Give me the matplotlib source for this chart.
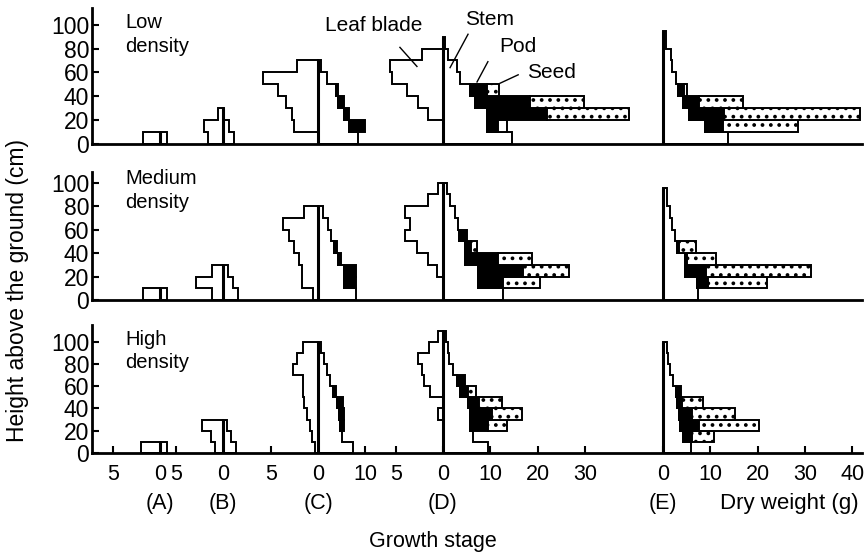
import matplotlib.pyplot as plt
from matplotlib.patches import Polygon, Rectangle
from matplotlib import transforms

plt.rcParams['font.family'] = ['Liberation Sans', 'DejaVu Sans']
plt.rcParams['hatch.linewidth'] = 1.5

stages = ['(A)', '(B)', '(C)', '(D)', '(E)']

# dry weight (g) in each 10-cm layer, listed from the ground up; one list per stage A-E
low_leaf = [[1.8], [1.6, 2.0, 0.5], [0, 2.5, 2.8, 3.4, 4.2, 5.8, 2.2],
            [0, 0, 1.6, 2.6, 3.8, 5.4, 5.6, 2.2], []]
low_stem = [[1.4], [2.3, 1.3, 0.3], [8.4, 6.5, 5.5, 4.2, 3.8, 1.9, 0.6],
            [14.7, 9.3, 9.3, 6.7, 5.7, 3.6, 2.9, 1.1, 0.4],
            [13.7, 8.8, 5.5, 4.2, 3.2, 2.7, 2.0, 1.7, 0.6, 0.6]]
low_pod = [[], [], [0, 3.4, 1.1, 1.3, 0.4], [0, 2.3, 12.6, 11.6, 3.6], [0, 4.0, 7.4, 3.4, 1.2]]
low_seed = [[], [], [], [0, 0, 17.5, 11.6, 2.5], [0, 15.8, 28.8, 9.3, 0]]
low_shell = [[], [], [], [0, 1.9], [0, 0, 0, 0, 0.6]]
low_height = [10, 30, 70, 90, 95]

mid_leaf = [[1.8], [1.2, 2.9, 1.2], [0.5, 1.7, 1.7, 2.0, 2.5, 3.1, 3.7, 1.5],
            [0, 0, 0.6, 1.6, 2.7, 4.0, 3.5, 4.0, 1.6, 0.5], []]
mid_stem = [[1.5], [3.2, 2.1, 1.1], [8.0, 5.5, 5.5, 4.2, 3.4, 2.7, 2.1, 1.0],
            [12.6, 7.4, 7.4, 4.6, 4.6, 3.4, 3.2, 2.5, 1.5, 0.8],
            [7.4, 7.2, 4.6, 4.6, 2.9, 2.5, 1.9, 1.5, 0.8, 0.8]]
mid_pod = [[], [], [0, 2.5, 2.5, 0.6, 0.6], [0, 5.3, 9.5, 7.0, 1.3, 1.7], [0, 2.3, 4.6, 0.4, 0.6]]
mid_seed = [[], [], [], [0, 7.8, 9.7, 7.2, 1.3], [0, 12.6, 22.1, 6.3, 3.4]]
mid_shell = [[], [], [], [], []]
mid_height = [10, 30, 80, 100, 95]

high_leaf = [[2.0], [0.8, 1.3, 2.2], [0.3, 0.6, 0.9, 1.2, 1.5, 1.6, 1.6, 2.7, 2.2, 1.6],
             [0, 0, 0, 0.5, 0, 1.4, 2.0, 2.2, 2.6, 1.5, 0.5], []]
high_stem = [[1.5], [2.7, 1.7, 0.8], [7.4, 5.0, 4.6, 4.4, 4.0, 3.2, 2.5, 1.9, 1.3, 0.6],
             [9.5, 6.3, 5.7, 5.7, 5.3, 3.6, 2.9, 2.1, 1.3, 1.1, 0.6],
             [5.9, 4.2, 3.6, 3.4, 3.0, 2.7, 2.1, 1.6, 1.1, 0.8]]
high_pod = [[], [], [0, 0, 0.8, 1.1, 1.3, 0.6], [0, 0, 3.8, 4.6, 2.3, 1.7, 1.7],
            [0, 1.9, 4.0, 2.7, 1.0, 1.2]]
high_seed = [[], [], [], [0, 0, 4.0, 6.5, 4.8, 1.7], [0, 4.8, 12.8, 9.1, 4.5]]
high_shell = [[], [], [], [], []]
high_height = [10, 30, 100, 110, 100]

leaf_ticks = [[5], [5], [5], [5], []]
weight_ticks = [[0], [0], [0, 10], [0, 10, 20, 30], [0, 10, 20, 30, 40]]

# layout: x axis in grams (stem scale), leaf side drawn at double scale
LEAF = 2.0
ORIGIN = [14.4, 27.7, 47.8, 74.2, 120.7]
PX_PER_G = 4.73
LW = 1.4
W, H = 866, 560


def layer_top(k, height):
    return min(10 * (k + 1), height)


def draw_stage(ax, x0, height, leaf, stem, pod, seed, shell):
    # stem profile (white, to the right of the zero line)
    verts = [(x0, 0)]
    for k, w in enumerate(stem):
        verts += [(x0 + w, 10 * k), (x0 + w, layer_top(k, height))]
    verts.append((x0, layer_top(len(stem) - 1, height)))
    ax.add_patch(Polygon(verts, closed=True, fc='white', ec='black', lw=LW, zorder=2))

    # leaf blade profile (to the left), one polygon per run of occupied layers
    k = 0
    while k < len(leaf):
        if leaf[k] <= 0:
            k += 1
            continue
        j = k
        verts = [(x0, 10 * k)]
        while j < len(leaf) and leaf[j] > 0:
            verts += [(x0 - LEAF * leaf[j], 10 * j), (x0 - LEAF * leaf[j], layer_top(j, height))]
            j += 1
        verts.append((x0, layer_top(j - 1, height)))
        ax.add_patch(Polygon(verts, closed=True, fc='white', ec='black', lw=LW, zorder=2))
        k = j

    # pods (black), seeds (dotted) and empty pods stacked on the stem
    for k, p in enumerate(pod):
        s = stem[k]
        top = layer_top(k, height)
        if p > 0:
            ax.add_patch(Rectangle((x0 + s, 10 * k), p, top - 10 * k, fc='black',
                                   ec='black', lw=LW, zorder=3))
        d = seed[k] if k < len(seed) else 0
        if d > 0:
            ax.add_patch(Rectangle((x0 + s + p, 10 * k), d, top - 10 * k, fc='white',
                                   ec='black', lw=LW, hatch='..', zorder=3))
        e = shell[k] if k < len(shell) else 0
        if e > 0:
            ax.add_patch(Rectangle((x0 + s + p, 10 * k), e, top - 10 * k, fc='white',
                                   ec='black', lw=LW, zorder=3))

    ax.plot([x0, x0], [0, height], color='black', lw=2.2, zorder=4,
            solid_capstyle='butt')


rows = [
    ('Low\ndensity', low_leaf, low_stem, low_pod, low_seed, low_shell, low_height),
    ('Medium\ndensity', mid_leaf, mid_stem, mid_pod, mid_seed, mid_shell, mid_height),
    ('High\ndensity', high_leaf, high_stem, high_pod, high_seed, high_shell, high_height),
]
# baseline pixel row, top pixel row, upper y limit (cm), label top pixel row
frames = [(144, 8, 114, 13), (300, 172, 109, 169), (453, 325, 115, 330)]

fig = plt.figure(figsize=(W / 100, H / 100), dpi=100)
left_px, width_px = 92, 770

axes = []
for (label, leaf, stem, pod, seed, shell, height), (base, top, ymax, ly) in zip(rows, frames):
    ax = fig.add_axes([left_px / W, 1 - base / H, width_px / W, (base - top) / H])
    ax.set_xlim(0, width_px / PX_PER_G)
    ax.set_ylim(0, ymax)
    ax.patch.set_alpha(0)
    for side in ['top', 'right']:
        ax.spines[side].set_visible(False)
    ax.spines['left'].set_linewidth(2)
    ax.spines['bottom'].set_linewidth(2)
    ax.set_yticks(range(0, 101, 20))
    ax.tick_params(axis='y', direction='in', length=5, width=1.5, labelsize=16.5, pad=2)
    ax.set_xticks([])
    for k in range(5):
        draw_stage(ax, ORIGIN[k], height[k], leaf[k], stem[k], pod[k], seed[k], shell[k])
    fig.text(125 / W, 1 - ly / H, label, fontsize=14.5, va='top', ha='left', linespacing=1.3)
    axes.append(ax)

# shared growth-stage / dry weight axis under the bottom row
ax = axes[-1]
pos, lab = [], []
for x0, lt, wt in zip(ORIGIN, leaf_ticks, weight_ticks):
    for v in lt:
        pos.append(x0 - LEAF * v)
        lab.append(str(v))
    for v in wt:
        pos.append(x0 + v)
        lab.append(str(v))
ax.set_xticks(pos)
ax.set_xticklabels(lab)
ax.tick_params(axis='x', direction='in', length=5, width=1.5, labelsize=15.5, pad=8)

tr = transforms.blended_transform_factory(ax.transData, fig.transFigure)
for x0, s in zip(ORIGIN, stages):
    ax.text(x0, 1 - 504 / H, s, transform=tr, fontsize=15.5, ha='center', va='center')
ax.text(ORIGIN[4] + 12, 1 - 504 / H, 'Dry weight (g)', transform=tr, fontsize=16,
        ha='left', va='center')

# organ labels with leader lines on the low-density panel
top_ax = axes[0]
d0 = ORIGIN[3]
top_ax.plot([d0 - 9.1, d0 - 5.5], [81, 65], color='black', lw=1)
top_ax.plot([d0 + 5.3, d0 + 1.5], [92, 64], color='black', lw=1)
top_ax.plot([d0 + 9.5, d0 + 7.2], [69, 52], color='black', lw=1)
top_ax.plot([d0 + 15.9, d0 + 12.1], [58, 51], color='black', lw=1)
top_ax.text(d0 - 14.6, 99, 'Leaf blade', fontsize=15, ha='center', va='center')
top_ax.text(d0 + 9.9, 104, 'Stem', fontsize=15, ha='center', va='center')
top_ax.text(d0 + 15.9, 81.5, 'Pod', fontsize=15, ha='center', va='center')
top_ax.text(d0 + 17.8, 60, 'Seed', fontsize=15, ha='left', va='center')

fig.text(433 / W, 1 - 541 / H, 'Growth stage', fontsize=15.5, ha='center', va='center')
fig.text(18 / W, 1 - 290 / H, 'Height above the ground (cm)', fontsize=16.5,
         ha='center', va='center', rotation=90)

fig.savefig('out.png', dpi=100)
